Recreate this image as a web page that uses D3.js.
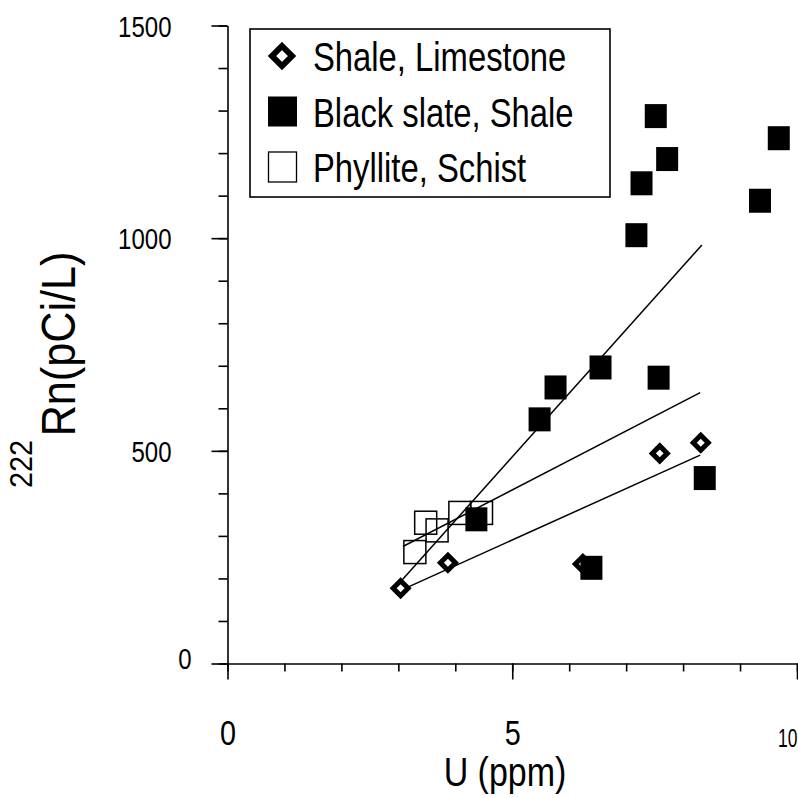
<!DOCTYPE html>
<head>
  <style>
    body { margin: 0; background: #fff; }
    .axis path, .axis line { stroke: #000; stroke-width: 1.6px; }
    .tick text { font-family: "Liberation Sans", Arial, sans-serif; fill: #000; }
    .legend-text { font-family: "Liberation Sans", Arial, sans-serif; font-size: 41px; }
    .axis-label { font-family: "Liberation Sans", Arial, sans-serif; }
  </style>
  <title>222Rn vs U</title>
</head>
<body>
  <script src="https://cdn.jsdelivr.net/npm/d3@7/dist/d3.min.js"></script>
  <script>
    // data: U (ppm), Rn (pCi/L)
    const shaleLimestone = [
      [3.04, 177], [3.87, 237], [6.24, 234], [7.59, 494], [8.31, 519]
    ];
    const blackSlate = [
      [7.52, 1287], [9.68, 1235], [7.72, 1186], [7.27, 1129], [9.35, 1088],
      [7.18, 1007], [6.55, 696], [7.57, 672], [5.76, 649], [5.48, 574],
      [8.38, 436], [4.37, 339], [6.39, 225]
    ];
    const phyllite = [
      [3.29, 262], [3.48, 331], [3.68, 313], [4.08, 354], [4.46, 354]
    ];
    // fitted lines as drawn [x0, y0, x1, y1]
    const fitLines = [
      [3.05, 194, 8.33, 984],   // black slate
      [3.08, 275, 8.30, 637],   // phyllite
      [3.06, 173, 8.30, 490]    // shale, limestone
    ];
    const legendLabels = ["Shale, Limestone", "Black slate, Shale", "Phyllite, Schist"];
    const xTicks = [0, 5, 10];
    const yTicks = [0, 500, 1000, 1500];

    // the original type is a narrow sans, so squeeze text horizontally
    const narrow = 0.8;

    const svg = d3.select("body").append("svg")
      .attr("width", 798)
      .attr("height", 798);

    const x = d3.scaleLinear().domain([0, 10]).range([227.5, 797]);
    const y = d3.scaleLinear().domain([0, 1500]).range([663.5, 25.5]);

    // minor ticks
    svg.append("g")
      .attr("class", "axis")
      .attr("transform", `translate(0,${y(0)})`)
      .call(d3.axisBottom(x).ticks(10).tickSize(8).tickFormat(""))
      .select(".domain").remove();
    svg.append("g")
      .attr("class", "axis")
      .attr("transform", `translate(${x(0)},0)`)
      .call(d3.axisLeft(y).ticks(15).tickSize(9).tickFormat(""))
      .select(".domain").remove();

    // major ticks + labels
    const xAxis = svg.append("g")
      .attr("class", "axis")
      .attr("transform", `translate(0,${y(0)})`)
      .call(d3.axisBottom(x).tickValues(xTicks).tickSize(16).tickSizeOuter(0).tickFormat(d3.format("d")));
    xAxis.selectAll(".tick text")
      .attr("x", 0)
      .attr("y", 0)
      .attr("dy", "0.71em")
      .style("font-size", d => d === 10 ? "25px" : "36px")
      .attr("text-anchor", d => d === 10 ? "end" : "middle")
      .attr("transform", d => d === 10 ? "translate(0,66) scale(0.7,1)" : `translate(0,56) scale(${narrow},1)`);

    const yAxis = svg.append("g")
      .attr("class", "axis")
      .attr("transform", `translate(${x(0)},0)`)
      .call(d3.axisLeft(y).tickValues(yTicks).tickSize(16).tickSizeOuter(0).tickFormat(d3.format("d")));
    yAxis.selectAll(".tick text")
      .attr("x", 0)
      .attr("dy", d => d === 0 ? "0.15em" : "0.35em")
      .style("font-size", "30px")
      .attr("transform", d => `translate(${d === 0 ? -36 : -56},0) scale(${narrow},1)`);

    // fitted lines
    svg.append("g").selectAll("line")
      .data(fitLines)
      .enter()
      .append("line")
      .attr("x1", d => x(d[0]))
      .attr("y1", d => y(d[1]))
      .attr("x2", d => x(d[2]))
      .attr("y2", d => y(d[3]))
      .attr("stroke", "#000")
      .attr("stroke-width", 1.5);

    const diamond = r => `M0,${-r}L${r},0L0,${r}L${-r},0Z`;

    svg.append("g").selectAll("path")
      .data(shaleLimestone)
      .enter()
      .append("path")
      .attr("d", diamond(7.5))
      .attr("transform", d => `translate(${x(d[0])},${y(d[1])})`)
      .attr("fill", "#fff")
      .attr("stroke", "#000")
      .attr("stroke-width", 5);

    svg.append("g").selectAll("rect")
      .data(phyllite)
      .enter()
      .append("rect")
      .attr("x", d => x(d[0]) - 11)
      .attr("y", d => y(d[1]) - 11.5)
      .attr("width", 22)
      .attr("height", 23)
      .attr("fill", "none")
      .attr("stroke", "#000")
      .attr("stroke-width", 1.5);

    svg.append("g").selectAll("rect")
      .data(blackSlate)
      .enter()
      .append("rect")
      .attr("x", d => x(d[0]) - 11)
      .attr("y", d => y(d[1]) - 12)
      .attr("width", 22)
      .attr("height", 24)
      .attr("fill", "#000");

    // legend
    const legend = svg.append("g").attr("id", "legend");
    legend.append("rect")
      .attr("x", 250).attr("y", 29)
      .attr("width", 360).attr("height", 168)
      .attr("fill", "#fff")
      .attr("stroke", "#000")
      .attr("stroke-width", 1.6);

    const rowY = i => 56 + i * 55.5;
    legend.append("path")
      .attr("d", diamond(10))
      .attr("transform", `translate(282,${rowY(0)})`)
      .attr("fill", "#fff").attr("stroke", "#000").attr("stroke-width", 6);
    legend.append("rect")
      .attr("x", 268).attr("y", rowY(1) - 15)
      .attr("width", 29).attr("height", 30)
      .attr("fill", "#000");
    legend.append("rect")
      .attr("x", 268.5).attr("y", rowY(2) - 15)
      .attr("width", 28).attr("height", 30)
      .attr("fill", "none").attr("stroke", "#000").attr("stroke-width", 1.3);

    legend.selectAll("text")
      .data(legendLabels)
      .enter()
      .append("text")
      .attr("class", "legend-text")
      .attr("transform", (d, i) => `translate(313,${rowY(i) + 15}) scale(${narrow},1)`)
      .text(d => d);

    // axis titles
    svg.append("text")
      .attr("class", "axis-label")
      .attr("transform", "translate(505,786) scale(0.85,1)")
      .attr("text-anchor", "middle")
      .style("font-size", "40px")
      .text("U (ppm)");

    const yTitle = svg.append("text")
      .attr("class", "axis-label")
      .attr("transform", "translate(75,488) rotate(-90) scale(0.9,1)");
    yTitle.append("tspan")
      .attr("dy", -43)
      .style("font-size", "32px")
      .text("222");
    yTitle.append("tspan")
      .attr("dx", 4)
      .attr("dy", 43)
      .style("font-size", "48px")
      .text("Rn(pCi/L)");
  </script>
</body>
